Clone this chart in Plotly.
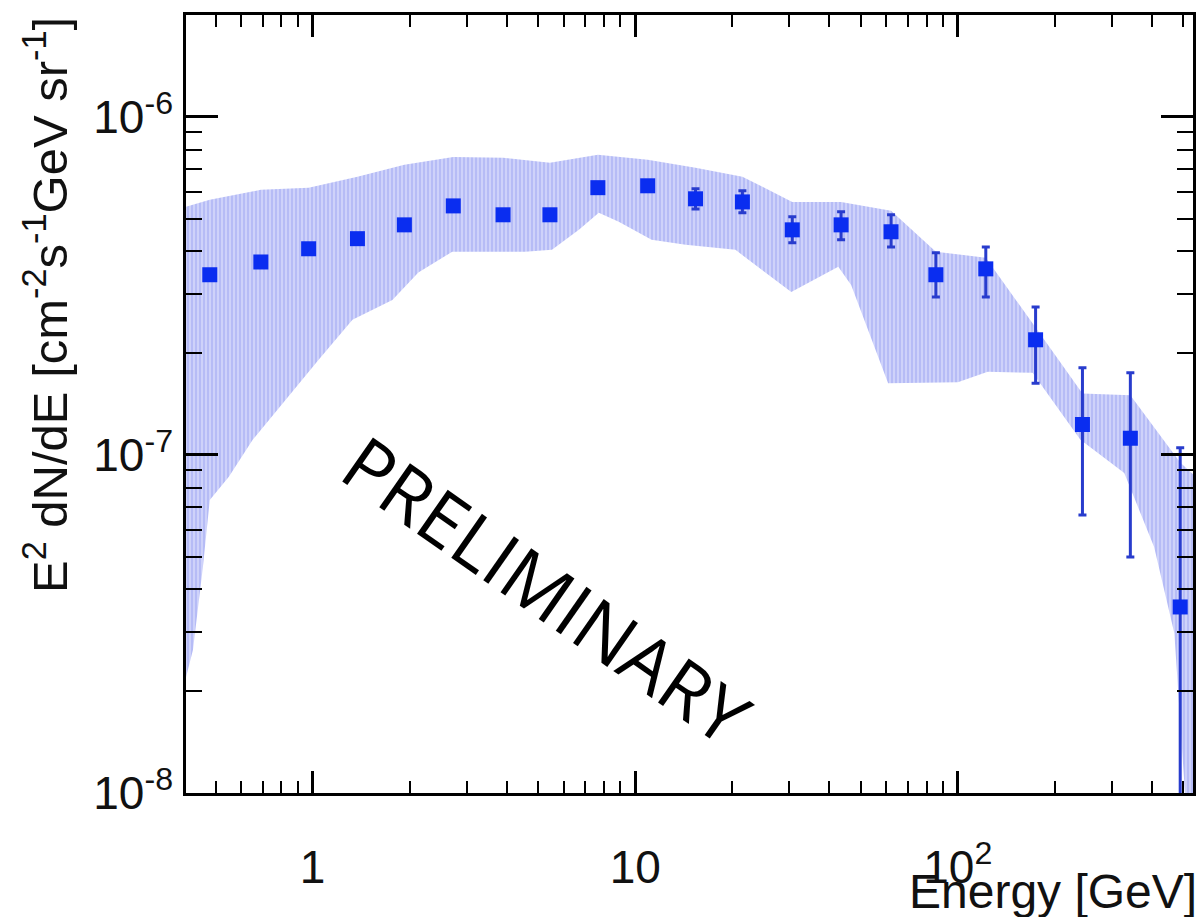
import plotly.graph_objects as go

# ---------------- data ----------------
energy = [0.480, 0.691, 0.972, 1.377, 1.925, 2.729, 3.894, 5.44, 7.66, 10.93,
          15.38, 21.49, 30.68, 43.47, 62.09, 85.5, 122.1, 174.2, 243.4, 342.6, 489]
flux = [3.41e-7, 3.72e-7, 4.07e-7, 4.36e-7, 4.79e-7, 5.45e-7, 5.13e-7, 5.13e-7,
        6.17e-7, 6.25e-7, 5.72e-7, 5.60e-7, 4.63e-7, 4.79e-7, 4.57e-7, 3.41e-7,
        3.55e-7, 2.19e-7, 1.23e-7, 1.12e-7, 3.55e-8]
flux_hi = [3.48e-7, 3.79e-7, 4.15e-7, 4.45e-7, 4.89e-7, 5.56e-7, 5.24e-7, 5.24e-7,
           6.35e-7, 6.45e-7, 6.12e-7, 6.04e-7, 5.06e-7, 5.24e-7, 5.13e-7, 3.96e-7,
           4.12e-7, 2.74e-7, 1.81e-7, 1.75e-7, 1.05e-7]
flux_lo = [3.34e-7, 3.65e-7, 3.99e-7, 4.27e-7, 4.69e-7, 5.34e-7, 5.02e-7, 5.02e-7,
           5.99e-7, 6.05e-7, 5.34e-7, 5.20e-7, 4.24e-7, 4.33e-7, 4.12e-7, 2.93e-7,
           2.93e-7, 1.63e-7, 6.64e-8, 4.99e-8, 5.0e-9]

# systematic band (upper and lower envelopes)
band_up_E = [0.40, 0.480, 0.691, 0.972, 1.377, 1.925, 2.729, 3.894, 5.44, 7.66,
             10.93, 15.38, 21.49, 30.68, 43.47, 62.09, 85.5, 122.1, 174.2, 243.4,
             342.6, 489, 540]
band_up = [5.40e-7, 5.68e-7, 6.08e-7, 6.17e-7, 6.65e-7, 7.21e-7, 7.61e-7, 7.56e-7,
           7.31e-7, 7.72e-7, 7.46e-7, 7.07e-7, 6.65e-7, 5.60e-7, 5.60e-7, 5.27e-7,
           3.99e-7, 3.83e-7, 2.38e-7, 1.52e-7, 1.50e-7, 9.5e-8, 8.7e-8]
band_lo_E = [0.40, 0.4256, 0.444, 0.457, 0.480, 0.550, 0.652, 0.825, 1.044, 1.329,
             1.767, 2.127, 2.709, 4.554, 5.52, 6.69, 7.71, 8.89, 11.24, 14.33,
             20.45, 30.46, 42.6, 46.7, 60.8, 100, 123.8, 170.5, 239.9, 328, 406,
             469, 486, 514, 540]
band_lo = [2.1e-8, 2.65e-8, 3.72e-8, 4.66e-8, 7.36e-8, 8.61e-8, 1.108e-7, 1.455e-7,
           1.91e-7, 2.51e-7, 2.87e-7, 3.46e-7, 3.99e-7, 3.99e-7, 4.04e-7, 4.63e-7,
           5.20e-7, 4.89e-7, 4.33e-7, 4.18e-7, 4.04e-7, 3.03e-7, 3.60e-7, 3.18e-7,
           1.63e-7, 1.64e-7, 1.76e-7, 1.75e-7, 1.108e-7, 8.84e-8, 5.34e-8, 2.97e-8,
           1.72e-8, 8e-9, 5e-9]

x_ticks = [1, 10, 100]
x_ticktext = ["1", "10", "10<sup>2</sup>"]
x_minor = [0.5, 0.6, 0.7, 0.8, 0.9, 2, 3, 4, 5, 6, 7, 8, 9,
           20, 30, 40, 50, 60, 70, 80, 90, 200, 300, 400, 500]
y_ticks = [1e-8, 1e-7, 1e-6]
y_ticktext = ["10<sup>-8</sup>", "10<sup>-7</sup>", "10<sup>-6</sup>"]
y_minor = [2e-8, 3e-8, 4e-8, 5e-8, 6e-8, 7e-8, 8e-8, 9e-8,
           2e-7, 3e-7, 4e-7, 5e-7, 6e-7, 7e-7, 8e-7, 9e-7, 2e-6]

# ---------------- figure ----------------
err_plus = [h - f for h, f in zip(flux_hi, flux)]
err_minus = [f - l for f, l in zip(flux, flux_lo)]

fig = go.Figure()

fig.add_trace(go.Scatter(
    x=band_up_E + band_lo_E[::-1],
    y=band_up + band_lo[::-1],
    fill="toself",
    mode="lines",
    line=dict(width=0),
    fillcolor="rgb(204,208,250)",
    fillpattern=dict(shape="|", size=4, solidity=0.5,
                     fgcolor="rgb(158,166,242)", bgcolor="rgb(206,210,250)"),
    hoverinfo="skip",
    showlegend=False,
))

fig.add_trace(go.Scatter(
    x=energy, y=flux,
    mode="markers",
    marker=dict(symbol="square", size=15, color="rgb(10,45,240)"),
    error_y=dict(type="data", symmetric=False, array=err_plus,
                 arrayminus=err_minus, color="rgb(40,60,205)",
                 thickness=3, width=4),
    showlegend=False,
))

font_main = "Liberation Sans, Arial, sans-serif"

axis_common = dict(
    type="log", showgrid=False, zeroline=False,
    showline=True, linecolor="black", linewidth=2.5, mirror="ticks",
    ticks="inside", tickwidth=2.5, tickcolor="black",
    tickfont=dict(family=font_main, size=46, color="#111"),
)

fig.update_xaxes(
    **axis_common,
    range=[-0.3925, 2.729],
    tickvals=x_ticks, ticktext=x_ticktext, ticklen=22,
    ticklabelstandoff=32,
    minor=dict(tickvals=x_minor, ticks="inside", ticklen=12,
               tickwidth=2, tickcolor="black"),
)
fig.update_yaxes(
    **axis_common,
    range=[-8, -5.699],
    tickvals=y_ticks, ticktext=y_ticktext, ticklen=32,
    ticklabelstandoff=1,
    minor=dict(tickvals=y_minor, ticks="inside", ticklen=16,
               tickwidth=2, tickcolor="black"),
)

fig.add_annotation(
    text="Energy [GeV]", xref="paper", yref="paper",
    x=1.006, y=-0.127, xanchor="right", yanchor="middle",
    showarrow=False, font=dict(family=font_main, size=48, color="#111"),
)
fig.add_annotation(
    text="E<sup>2</sup> dN/dE [cm<sup>-2</sup>s<sup>-1</sup>GeV sr<sup>-1</sup>]",
    xref="paper", yref="paper",
    x=-0.139, y=1.0, xanchor="center", yanchor="top", textangle=-90,
    showarrow=False, font=dict(family=font_main, size=49, color="#111"),
)
fig.add_annotation(
    text="PRELIMINARY", xref="paper", yref="paper",
    x=0.358, y=0.262, xanchor="center", yanchor="middle", textangle=35,
    showarrow=False, font=dict(family="Open Sans, sans-serif", size=75, color="black"),
)

fig.update_layout(
    width=1201, height=917, autosize=False,
    margin=dict(l=186, r=5, t=15, b=124, pad=0),
    paper_bgcolor="white", plot_bgcolor="white",
)

fig.write_html("out.html",
               config={"displayModeBar": False},
               post_script="document.body.style.margin='0';document.body.style.overflow='hidden';")
